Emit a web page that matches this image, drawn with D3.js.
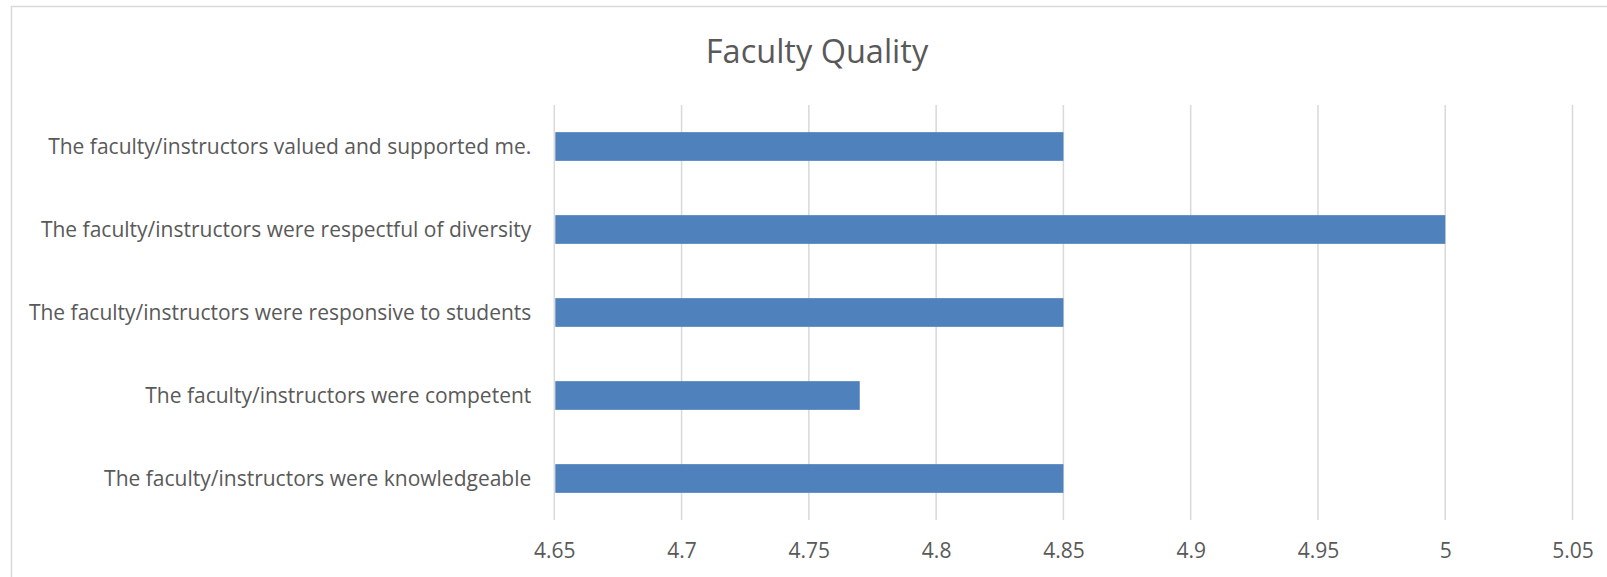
<!DOCTYPE html>
<html>
<head>
<meta charset="utf-8">
<script src="https://cdn.jsdelivr.net/npm/d3@7"></script>
<style>
html,body{margin:0;padding:0;background:#fff;}
svg{display:block;}
</style>
</head>
<body>
<svg id="chart" width="1607" height="577"></svg>
<script>
const title = "Faculty Quality";
const categories = [
  "The faculty/instructors valued and supported me.",
  "The faculty/instructors were respectful of diversity",
  "The faculty/instructors were responsive to students",
  "The faculty/instructors were competent",
  "The faculty/instructors were knowledgeable"
];
const values = [4.85, 5, 4.85, 4.77, 4.85];
const xTicks = [4.65, 4.7, 4.75, 4.8, 4.85, 4.9, 4.95, 5, 5.05];
const xDomain = [4.65, 5.05];

const svg = d3.select("#chart");
const margin = {left: 554.3, right: 1607 - 1572.5, top: 105, bottom: 577 - 520};
const W = 1607, H = 577;
const font = "'Open Sans', 'Liberation Sans', Arial, sans-serif";
const textColor = "#595959";

// chart border
svg.append("rect")
  .attr("x", 11.5).attr("y", 6.5)
  .attr("width", W + 10).attr("height", H + 10)
  .attr("fill", "none").attr("stroke", "#d9d9d9").attr("stroke-width", 1.5);

const x = d3.scaleLinear().domain(xDomain).range([margin.left, W - margin.right]);
const y = d3.scaleBand().domain(categories).range([margin.top, H - margin.bottom]).paddingInner(0.654).paddingOuter(0.327);

// gridlines
svg.append("g").selectAll("line").data(xTicks).join("line")
  .attr("x1", d => x(d)).attr("x2", d => x(d))
  .attr("y1", margin.top).attr("y2", H - margin.bottom)
  .attr("stroke", "#d9d9d9").attr("stroke-width", 1.5);

// bars
svg.append("g").selectAll("rect").data(values).join("rect")
  .attr("x", x(xDomain[0]) + 1)
  .attr("y", (d, i) => y(categories[i]))
  .attr("width", d => x(d) - x(xDomain[0]) - 1)
  .attr("height", y.bandwidth())
  .attr("fill", "#4f81bd");

// x axis
const xAxis = d3.axisBottom(x).tickValues(xTicks).tickSize(0).tickPadding(0).tickFormat(d => String(+d.toFixed(2)));
const gx = svg.append("g").attr("transform", `translate(0,${H - margin.bottom})`).call(xAxis);
gx.select(".domain").remove();
gx.selectAll("text")
  .attr("y", 38.3).attr("dy", null)
  .attr("font-family", font).attr("font-size", 21).attr("fill", textColor);

// y axis
const yAxis = d3.axisLeft(y).tickSize(0).tickPadding(23);
const gy = svg.append("g").attr("transform", `translate(${margin.left},0)`).call(yAxis);
gy.select(".domain").remove();
gy.selectAll("text")
  .attr("dy", "0.35em")
  .attr("font-family", font).attr("font-size", 21).attr("fill", textColor);

// title
svg.append("text")
  .attr("x", 817).attr("y", 62.7)
  .attr("text-anchor", "middle")
  .attr("font-family", font).attr("font-size", 32.5).attr("fill", textColor)
  .text(title);
</script>
</body>
</html>
